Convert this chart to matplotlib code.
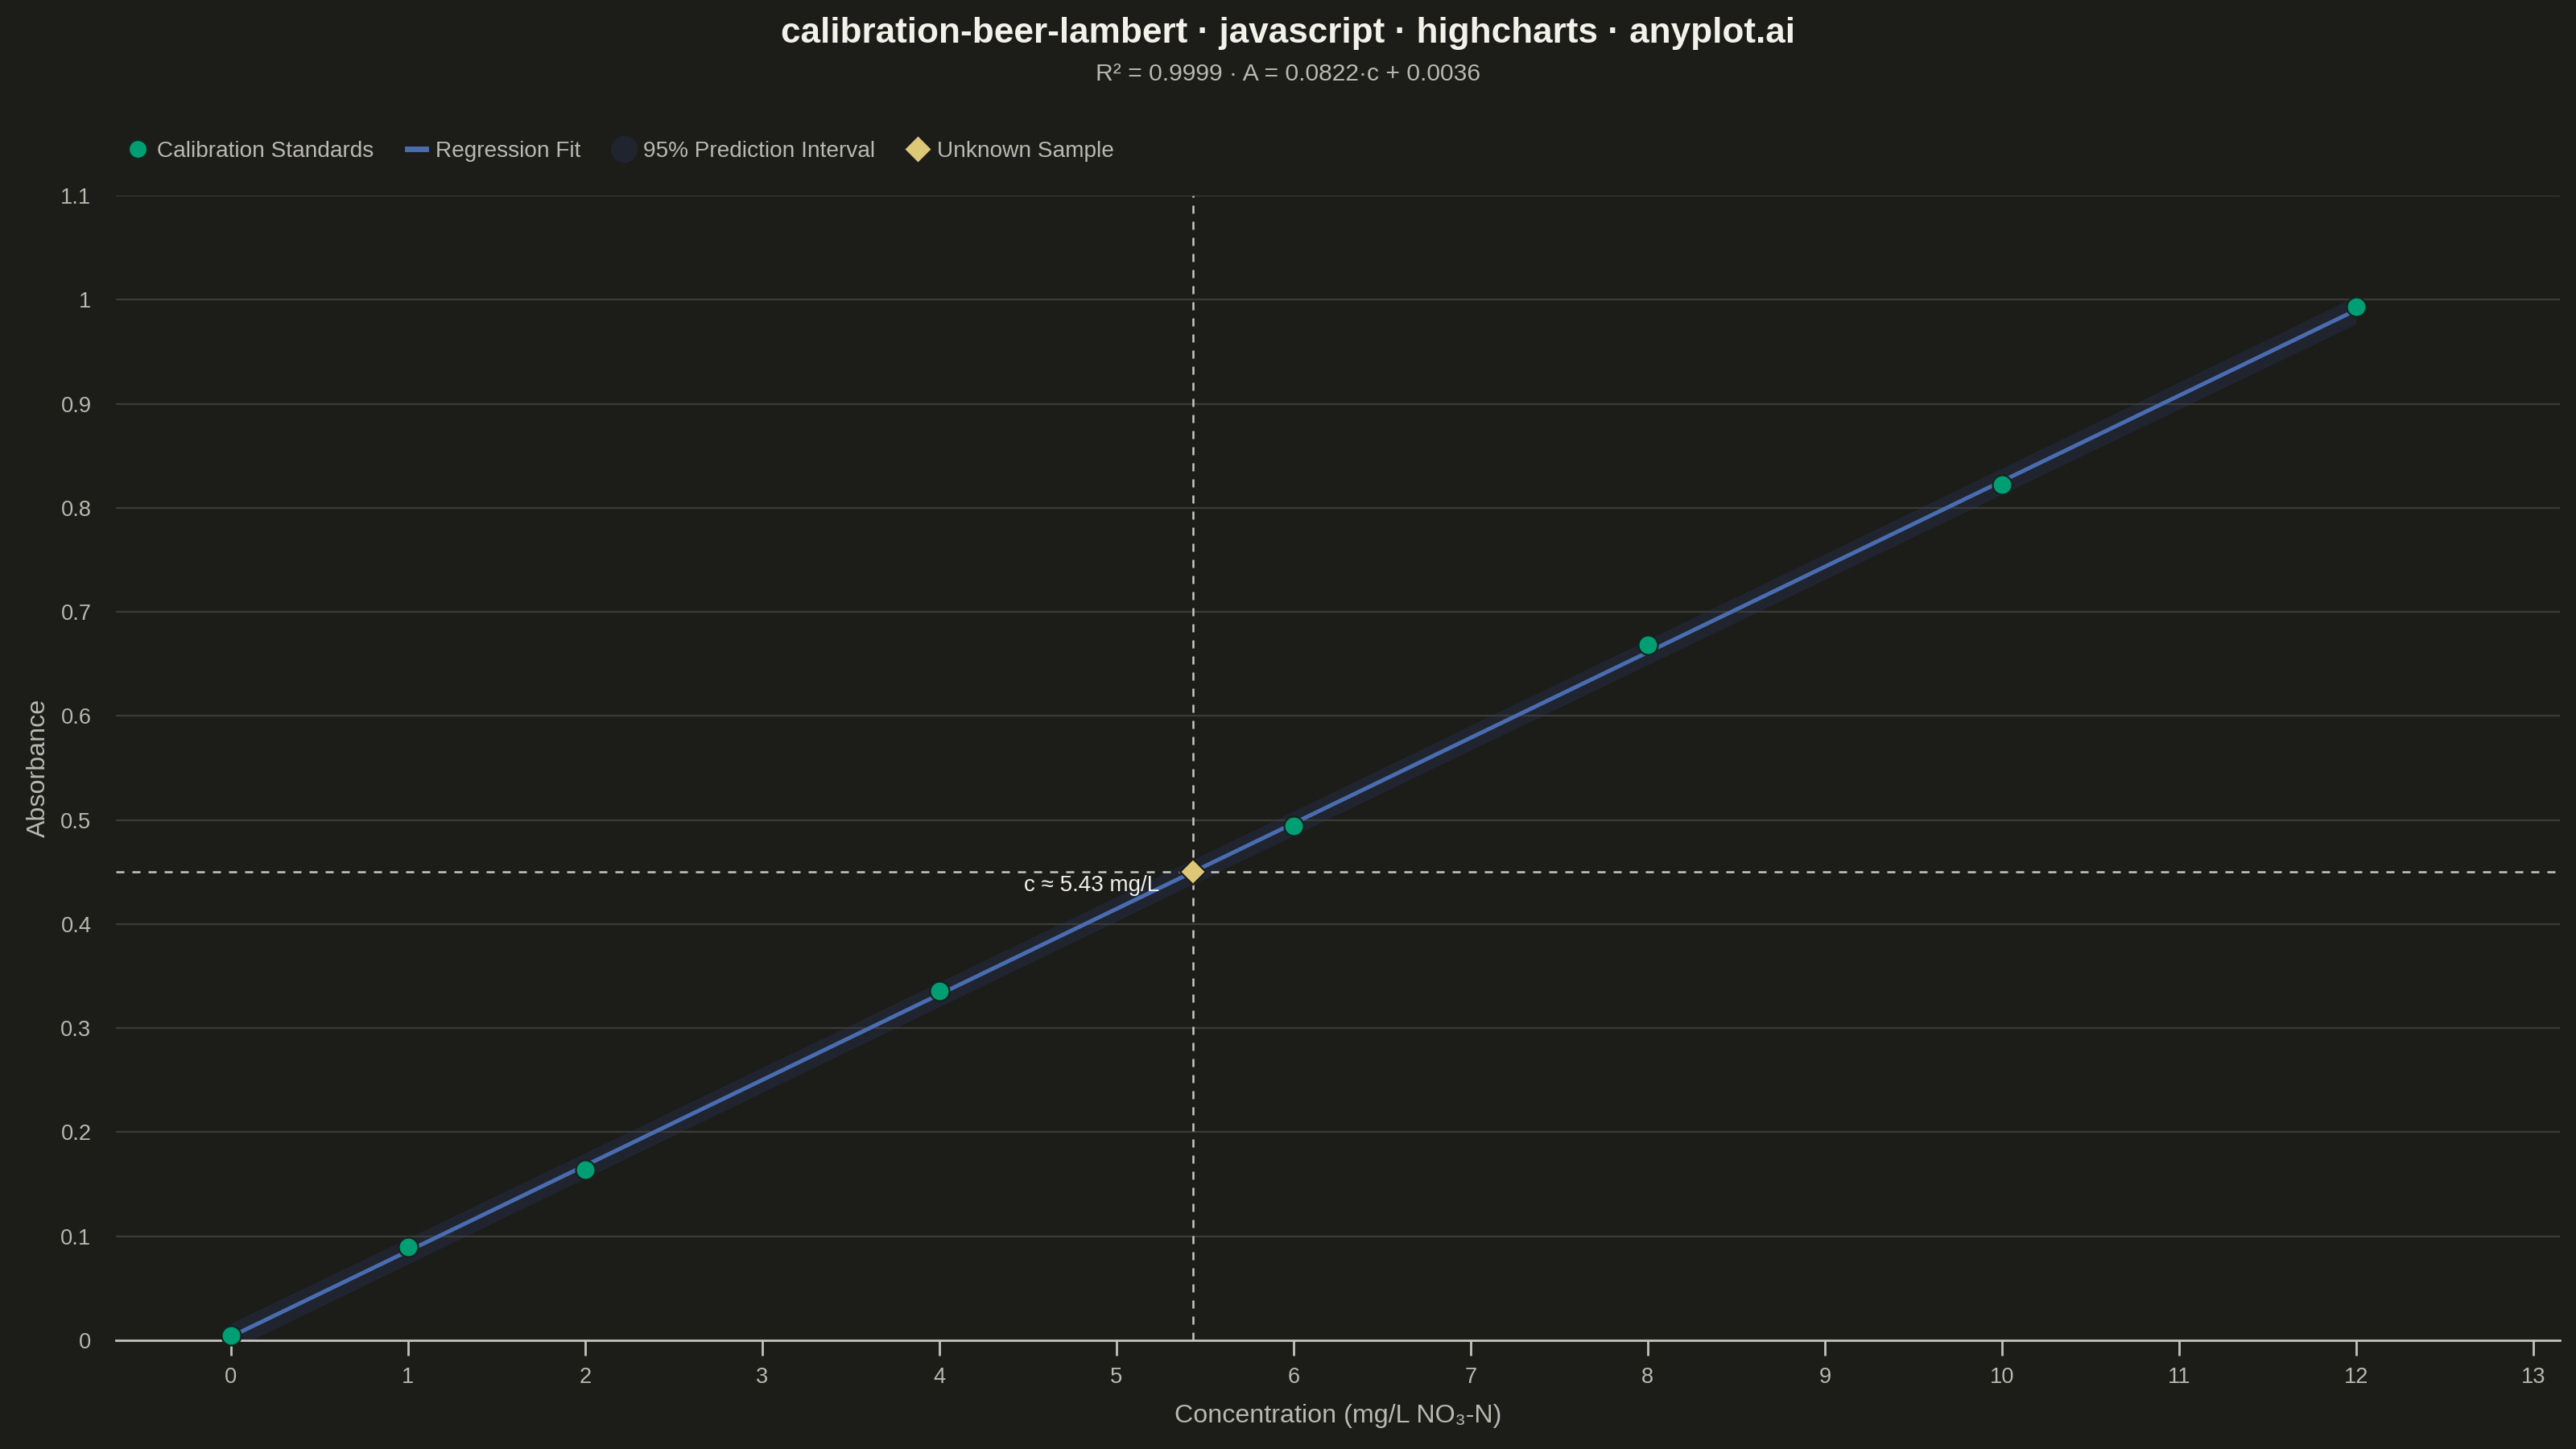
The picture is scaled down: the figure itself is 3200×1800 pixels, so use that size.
#!/usr/bin/env python
# -*- coding: utf8 -*-

'''
Beer-Lambert calibration curve with prediction band and one unknown sample
'''

import numpy as np
import matplotlib
matplotlib.use("Agg")
import matplotlib.pyplot as plt
from matplotlib.lines import Line2D

# calibration standards (mg/L NO3-N) and measured absorbance
concentration = [0, 1, 2, 4, 6, 8, 10, 12]
absorbance = [0.005, 0.090, 0.164, 0.336, 0.494, 0.668, 0.822, 0.993]

# fit as stated in the subtitle
slope = 0.0822
intercept = 0.0036
r_squared = 0.9999

# unknown sample absorbance
unknown_abs = 0.45

x_ticks = list(range(0, 14))
y_ticks = [0, 0.1, 0.2, 0.3, 0.4, 0.5, 0.6, 0.7, 0.8, 0.9, 1, 1.1]
y_tick_labels = ["0", "0.1", "0.2", "0.3", "0.4", "0.5", "0.6", "0.7", "0.8", "0.9", "1", "1.1"]

BG = "#1c1c19"
GRID = "#3b3b37"
TEXT = "#b9b9b1"
TITLE = "#f2f1ea"
GREEN = "#009e73"
BLUE = "#4a6db0"
BAND = "#20242f"
GOLD = "#ddc878"
DASH = "#c9c9c1"

plt.rcParams['font.family'] = ['Liberation Sans', 'DejaVu Sans']


def prediction_band(xs, ys, x_new):
    """
    95% prediction interval half-width around the stated line
    """
    xs = np.asarray(xs, dtype=float)
    ys = np.asarray(ys, dtype=float)
    n = len(xs)
    resid = ys - (slope * xs + intercept)
    s = np.sqrt(np.sum(resid ** 2) / (n - 2))
    t_val = 2.447  # t(0.975, 6)
    sxx = np.sum((xs - xs.mean()) ** 2)
    return t_val * s * np.sqrt(1 + 1 / n + (x_new - xs.mean()) ** 2 / sxx)


fig = plt.figure(figsize=(16, 9), dpi=200, facecolor=BG)
ax = fig.add_axes([0.045, 0.075, 0.9487, 0.79])
ax.set_facecolor(BG)

x_fit = np.linspace(min(concentration), max(concentration), 200)
y_fit = slope * x_fit + intercept
half = prediction_band(concentration, absorbance, x_fit)

ax.fill_between(x_fit, y_fit - half, y_fit + half, color=BAND, lw=0, zorder=0.4)
ax.plot(x_fit, y_fit, color=BLUE, lw=1.8, zorder=3, solid_capstyle="butt")

unknown_c = (unknown_abs - intercept) / slope
ax.axhline(unknown_abs, color=DASH, lw=0.9, ls=(0, (4, 4)), zorder=4)
ax.axvline(unknown_c, color=DASH, lw=0.9, ls=(0, (4, 4)), zorder=4)

ax.scatter(concentration, absorbance, s=75, color=GREEN, edgecolor="#15231e",
           linewidth=0.8, zorder=5, clip_on=False)
ax.plot([unknown_c], [unknown_abs], marker="D", markersize=8, color=GOLD,
        markeredgecolor="#1c1c19", markeredgewidth=0.8, zorder=6, ls="none")
ax.text(unknown_c - 0.19, unknown_abs - 0.013, f"c \u2248 {unknown_c:.2f} mg/L",
        color=TITLE, fontsize=10, ha="right", va="center", zorder=7)

ax.set_xlim(-0.65, 13.15)
ax.set_ylim(0, 1.1)
ax.set_xticks(x_ticks)
ax.set_yticks(y_ticks)
ax.set_yticklabels(y_tick_labels)

ax.grid(axis="y", color=GRID, lw=0.8)
ax.set_axisbelow(True)
for side in ["top", "right", "left"]:
    ax.spines[side].set_visible(False)
ax.spines["bottom"].set_color("#c4c4bc")
ax.spines["bottom"].set_linewidth(1.0)
ax.spines["bottom"].set_zorder(1)

ax.tick_params(axis="x", colors="#c4c4bc", length=7, width=1.0, pad=5,
               labelsize=9.8, labelcolor=TEXT)
ax.tick_params(axis="y", length=0, pad=11, labelsize=9.8, labelcolor=TEXT)

ax.set_xlabel("Concentration (mg/L NO\u2083-N)", color=TEXT, fontsize=11.6, labelpad=7)
ax.set_ylabel("Absorbance", color=TEXT, fontsize=11.6, labelpad=4.5)

fig.text(0.5, 0.977, "calibration-beer-lambert \u00b7 javascript \u00b7 highcharts \u00b7 anyplot.ai",
         ha="center", va="center", color=TITLE, fontsize=15.9, fontweight="bold")
fig.text(0.5, 0.949, f"R\u00b2 = {r_squared:.4f} \u00b7 A = {slope:.4f}\u00b7c + {intercept:.4f}",
         ha="center", va="center", color=TEXT, fontsize=10.8)

handles = [
    Line2D([], [], ls="none", marker="o", markersize=8.5, color=GREEN, markeredgecolor="#15231e"),
    Line2D([], [], color=BLUE, lw=2.5),
    Line2D([], [], ls="none", marker="o", markersize=11, color=BAND),
    Line2D([], [], ls="none", marker="D", markersize=7, color=GOLD),
]
labels = ["Calibration Standards", "Regression Fit", "95% Prediction Interval", "Unknown Sample"]
leg = fig.legend(handles, labels, loc="center left", bbox_to_anchor=(0.05, 0.8955),
                 ncol=4, frameon=False, fontsize=10.1, handlelength=0.8,
                 handletextpad=0.45, columnspacing=1.5, borderaxespad=0, borderpad=0)
for t in leg.get_texts():
    t.set_color(TEXT)

fig.savefig("out.png", dpi=200, facecolor=BG)
